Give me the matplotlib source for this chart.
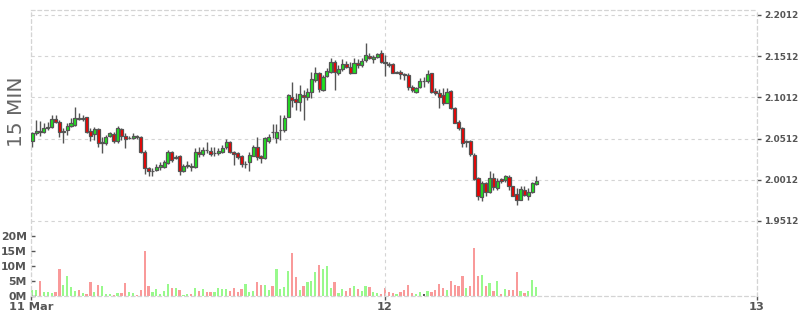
import pandas as pd
import matplotlib
matplotlib.use("Agg")
import matplotlib.pyplot as plt
import matplotlib.dates as mdates
from matplotlib.ticker import FixedLocator, FuncFormatter

# 15 minute bars, 11 Mar 01:15 onwards
opens = [2.0481, 2.0578, 2.0606, 2.0590, 2.0639, 2.0651, 2.0748, 2.0715, 2.0597, 2.0618,
         2.0663, 2.0679, 2.0760, 2.0751, 2.0773, 2.0606, 2.0566, 2.0627, 2.0464, 2.0464,
         2.0546, 2.0566, 2.0477, 2.0627, 2.0546, 2.0518, 2.0518, 2.0537, 2.0530, 2.0355,
         2.0153, 2.0118, 2.0133, 2.0170, 2.0173, 2.0218, 2.0348, 2.0279, 2.0303, 2.0113,
         2.0185, 2.0182, 2.0173, 2.0348, 2.0324, 2.0376, 2.0367, 2.0336, 2.0343, 2.0355,
         2.0404, 2.0470, 2.0348, 2.0336, 2.0303, 2.0198, 2.0222, 2.0303, 2.0409, 2.0295,
         2.0275, 2.0488, 2.0597, 2.0518, 2.0614, 2.0618, 2.0780, 2.1014, 2.0990, 2.0961,
         2.1046, 2.1014, 2.1075, 2.1224, 2.1305, 2.1103, 2.1273, 2.1318, 2.1446, 2.1305,
         2.1354, 2.1415, 2.1386, 2.1313, 2.1427, 2.1403, 2.1467, 2.1519, 2.1475, 2.1507,
         2.1548, 2.1446, 2.1422, 2.1418, 2.1313, 2.1322, 2.1293, 2.1285, 2.1136, 2.1082,
         2.1136, 2.1209, 2.1216, 2.1305, 2.1091, 2.1063, 2.1043, 2.0949, 2.1094, 2.0881,
         2.0719, 2.0639, 2.0469, 2.0477, 2.0315, 2.0033, 1.9802, 1.9979, 1.9870, 2.0033,
         1.9911, 2.0021, 2.0012, 2.0051, 1.9931, 1.9839, 1.9770, 1.9891, 1.9810, 1.9858,
         1.9964]
highs = [2.0597, 2.0739, 2.0727, 2.0699, 2.0719, 2.0800, 2.0800, 2.0739, 2.0642, 2.0707,
         2.0760, 2.0894, 2.0821, 2.0800, 2.0780, 2.0639, 2.0658, 2.0639, 2.0537, 2.0558,
         2.0597, 2.0597, 2.0667, 2.0639, 2.0578, 2.0549, 2.0578, 2.0558, 2.0546, 2.0376,
         2.0173, 2.0153, 2.0206, 2.0234, 2.0255, 2.0376, 2.0364, 2.0315, 2.0315, 2.0203,
         2.0243, 2.0210, 2.0396, 2.0404, 2.0416, 2.0470, 2.0416, 2.0404, 2.0396, 2.0436,
         2.0509, 2.0485, 2.0364, 2.0355, 2.0315, 2.0243, 2.0355, 2.0436, 2.0537, 2.0307,
         2.0537, 2.0566, 2.0687, 2.0687, 2.0800, 2.0800, 2.1055, 2.1203, 2.1063, 2.1164,
         2.1103, 2.1124, 2.1325, 2.1385, 2.1325, 2.1285, 2.1366, 2.1487, 2.1467, 2.1406,
         2.1475, 2.1455, 2.1446, 2.1487, 2.1475, 2.1487, 2.1669, 2.1548, 2.1527, 2.1555,
         2.1588, 2.1527, 2.1446, 2.1427, 2.1337, 2.1345, 2.1313, 2.1305, 2.1164, 2.1143,
         2.1245, 2.1264, 2.1345, 2.1313, 2.1124, 2.1112, 2.1124, 2.1124, 2.1103, 2.0901,
         2.0739, 2.0658, 2.0497, 2.0497, 2.0336, 2.0052, 2.0003, 1.9991, 2.0113, 2.0093,
         2.0033, 2.0033, 2.0073, 2.0073, 1.9939, 1.9911, 1.9939, 1.9931, 1.9911, 1.9991,
         2.0060]
lows = [2.0416, 2.0558, 2.0546, 2.0578, 2.0618, 2.0639, 2.0699, 2.0537, 2.0464, 2.0558,
        2.0651, 2.0667, 2.0739, 2.0727, 2.0578, 2.0488, 2.0497, 2.0416, 2.0343, 2.0436,
        2.0530, 2.0464, 2.0464, 2.0497, 2.0396, 2.0506, 2.0506, 2.0509, 2.0343, 2.0085,
        2.0061, 2.0053, 2.0113, 2.0133, 2.0161, 2.0206, 2.0227, 2.0267, 2.0073, 2.0106,
        2.0154, 2.0121, 2.0161, 2.0283, 2.0295, 2.0336, 2.0295, 2.0306, 2.0315, 2.0336,
        2.0388, 2.0336, 2.0194, 2.0267, 2.0173, 2.0161, 2.0113, 2.0295, 2.0255, 2.0215,
        2.0267, 2.0457, 2.0521, 2.0457, 2.0497, 2.0594, 2.0772, 2.0901, 2.0861, 2.0852,
        2.0739, 2.0982, 2.1003, 2.1204, 2.1082, 2.1091, 2.1257, 2.1305, 2.1103, 2.1285,
        2.1337, 2.1370, 2.1293, 2.1305, 2.1366, 2.1386, 2.1446, 2.1475, 2.1434, 2.1487,
        2.1434, 2.1273, 2.1386, 2.1305, 2.1305, 2.1233, 2.1224, 2.1103, 2.1082, 2.1063,
        2.1124, 2.1143, 2.1192, 2.1070, 2.1043, 2.0881, 2.0922, 2.0942, 2.0869, 2.0699,
        2.0618, 2.0416, 2.0409, 2.0295, 2.0012, 1.9770, 1.9749, 1.9810, 1.9851, 1.9891,
        1.9891, 1.9972, 1.9991, 1.9891, 1.9810, 1.9701, 1.9761, 1.9810, 1.9770, 1.9851,
        1.9952]
closes = [2.0578, 2.0610, 2.0590, 2.0639, 2.0658, 2.0748, 2.0715, 2.0597, 2.0606, 2.0667,
          2.0699, 2.0760, 2.0748, 2.0757, 2.0597, 2.0546, 2.0627, 2.0464, 2.0473, 2.0530,
          2.0578, 2.0477, 2.0639, 2.0546, 2.0509, 2.0525, 2.0546, 2.0534, 2.0355, 2.0153,
          2.0113, 2.0121, 2.0166, 2.0194, 2.0227, 2.0348, 2.0255, 2.0291, 2.0113, 2.0182,
          2.0194, 2.0170, 2.0348, 2.0324, 2.0376, 2.0370, 2.0324, 2.0339, 2.0367, 2.0396,
          2.0470, 2.0348, 2.0324, 2.0283, 2.0203, 2.0206, 2.0315, 2.0409, 2.0283, 2.0275,
          2.0518, 2.0537, 2.0590, 2.0597, 2.0618, 2.0767, 2.1042, 2.0982, 2.0958, 2.1051,
          2.1022, 2.1075, 2.1236, 2.1305, 2.1115, 2.1257, 2.1333, 2.1446, 2.1318, 2.1354,
          2.1415, 2.1386, 2.1305, 2.1434, 2.1403, 2.1458, 2.1527, 2.1494, 2.1507, 2.1536,
          2.1446, 2.1434, 2.1410, 2.1313, 2.1318, 2.1297, 2.1285, 2.1136, 2.1103, 2.1124,
          2.1216, 2.1209, 2.1297, 2.1082, 2.1063, 2.1022, 2.0942, 2.1082, 2.0881, 2.0707,
          2.0639, 2.0464, 2.0477, 2.0324, 2.0021, 1.9810, 1.9979, 1.9858, 2.0033, 1.9919,
          2.0003, 2.0000, 2.0060, 1.9931, 1.9818, 1.9770, 1.9900, 1.9830, 1.9870, 1.9972,
          2.0003]
# volume in millions
volumes = [2.0, 2.0, 4.9, 1.3, 1.3, 0.9, 1.3, 8.8, 3.6, 6.5,
           2.9, 1.6, 2.0, 1.0, 0.7, 4.6, 1.3, 3.6, 3.3, 0.7,
           0.7, 0.3, 1.0, 1.0, 4.2, 1.3, 1.0, 0.3, 2.0, 15.0,
           3.3, 1.3, 2.3, 0.7, 1.6, 3.9, 2.6, 2.6, 2.0, 0.3,
           0.7, 0.7, 2.6, 1.6, 2.3, 1.3, 1.3, 1.3, 2.6, 2.3,
           2.3, 1.6, 2.6, 1.3, 2.3, 3.9, 1.3, 1.6, 4.6, 3.6,
           3.6, 2.0, 3.3, 9.1, 2.3, 3.0, 8.2, 14.3, 6.2, 2.0,
           3.3, 4.6, 4.9, 7.8, 10.4, 8.8, 9.8, 2.6, 4.6, 1.0,
           2.3, 1.6, 2.6, 3.3, 2.3, 1.6, 3.3, 2.9, 1.3, 1.0,
           0.7, 2.6, 1.3, 1.0, 0.7, 1.3, 2.0, 3.6, 1.0, 0.7,
           1.3, 0.7, 1.6, 1.3, 2.0, 3.9, 2.6, 2.0, 4.9, 3.6,
           3.3, 6.5, 2.6, 3.3, 16.0, 6.5, 6.8, 3.3, 4.2, 1.6,
           4.9, 0.7, 2.3, 2.0, 2.0, 7.8, 1.6, 1.0, 1.6, 5.2,
           2.9]

price_ticks = [1.9512, 2.0012, 2.0512, 2.1012, 2.1512, 2.2012]
vol_ticks = [0, 5e6, 10e6, 15e6, 20e6]
day_labels = ['11 Mar', '12', '13']

times = pd.date_range('2013-03-11 01:15', periods=len(opens), freq='15min')
x = mdates.date2num(times.to_pydatetime())
slot = 1.0 / 96

up_col, down_col, flat_col = '#1ee61e', '#f00000', '#555555'
vup_col, vdown_col = '#98f98c', '#f99a9a'
edge = '#555555'
grid_col = '#d4d4d4'
txt_col = '#555555'
dash = (0, (3, 3))

fig = plt.figure(figsize=(8, 3.15), dpi=100)
ax_vol = fig.add_axes([31 / 800, 1 - 296 / 315, 726 / 800, 286 / 315])
ax = ax_vol.twinx()

# volume bars
vcols = []
for o, c in zip(opens, closes):
    vcols.append(vup_col if c > o else (vdown_col if c < o else flat_col))
ax_vol.bar(x, [v * 1e6 for v in volumes], width=slot * 0.58, color=vcols, linewidth=0)

# candles
ax.vlines(x, lows, highs, color=edge, linewidth=1.0, zorder=2)
body_low = [min(o, c) for o, c in zip(opens, closes)]
body_h = [max(abs(c - o), 0.0004) for o, c in zip(opens, closes)]
ccols = [up_col if c > o else (down_col if c < o else flat_col) for o, c in zip(opens, closes)]
ax.bar(x, body_h, bottom=body_low, width=slot * 0.8, color=ccols,
       edgecolor=edge, linewidth=0.9, zorder=3)

left = mdates.date2num(pd.Timestamp('2013-03-11 01:10'))
d12 = mdates.date2num(pd.Timestamp('2013-03-12'))
d13 = mdates.date2num(pd.Timestamp('2013-03-13'))
ax_vol.set_xlim(left, d13)

# price axis: 2.2012 sits 5px under the top, 1.9512 at 221px
ppx = 0.25 / 206
ax.set_ylim(1.9512 - 75 * ppx, 2.2012 + 5 * ppx)
ax.yaxis.set_major_locator(FixedLocator(price_ticks))
ax.yaxis.set_major_formatter(FuncFormatter(lambda v, p: '%.4f' % v))
ax.grid(axis='y', color=grid_col, linestyle=dash, linewidth=0.8)
ax.tick_params(axis='y', direction='out', length=3, width=1, color=txt_col,
               labelsize=6.4, labelcolor=txt_col, pad=2)

# volume axis
ax_vol.set_ylim(0, 286 / 60.3 * 20e6)
ax_vol.yaxis.set_major_locator(FixedLocator(vol_ticks))
ax_vol.yaxis.set_major_formatter(FuncFormatter(lambda v, p: '%dM' % round(v / 1e6)))
ax_vol.tick_params(axis='y', direction='in', length=3, width=1, color=txt_col,
                   labelsize=7.8, labelcolor=txt_col, pad=3)

ax_vol.set_xticks([left, d12, d13])
ax_vol.set_xticklabels(day_labels)
ax_vol.grid(axis='x', color=grid_col, linestyle=dash, linewidth=0.8)
ax_vol.tick_params(axis='x', direction='out', length=3, width=1, color=txt_col,
                   labelsize=8.2, labelcolor=txt_col, pad=1)

for a in (ax, ax_vol):
    for s in a.spines.values():
        s.set_color(grid_col)
        s.set_linestyle(dash)
        s.set_linewidth(0.8)
    for lab in a.get_xticklabels() + a.get_yticklabels():
        lab.set_fontweight('bold')

fig.text(16 / 800, 1 - 112 / 315, '15 MIN', rotation=90, ha='center', va='center',
         fontsize=14.5, color='#666666')

fig.savefig('out.png', dpi=100)
